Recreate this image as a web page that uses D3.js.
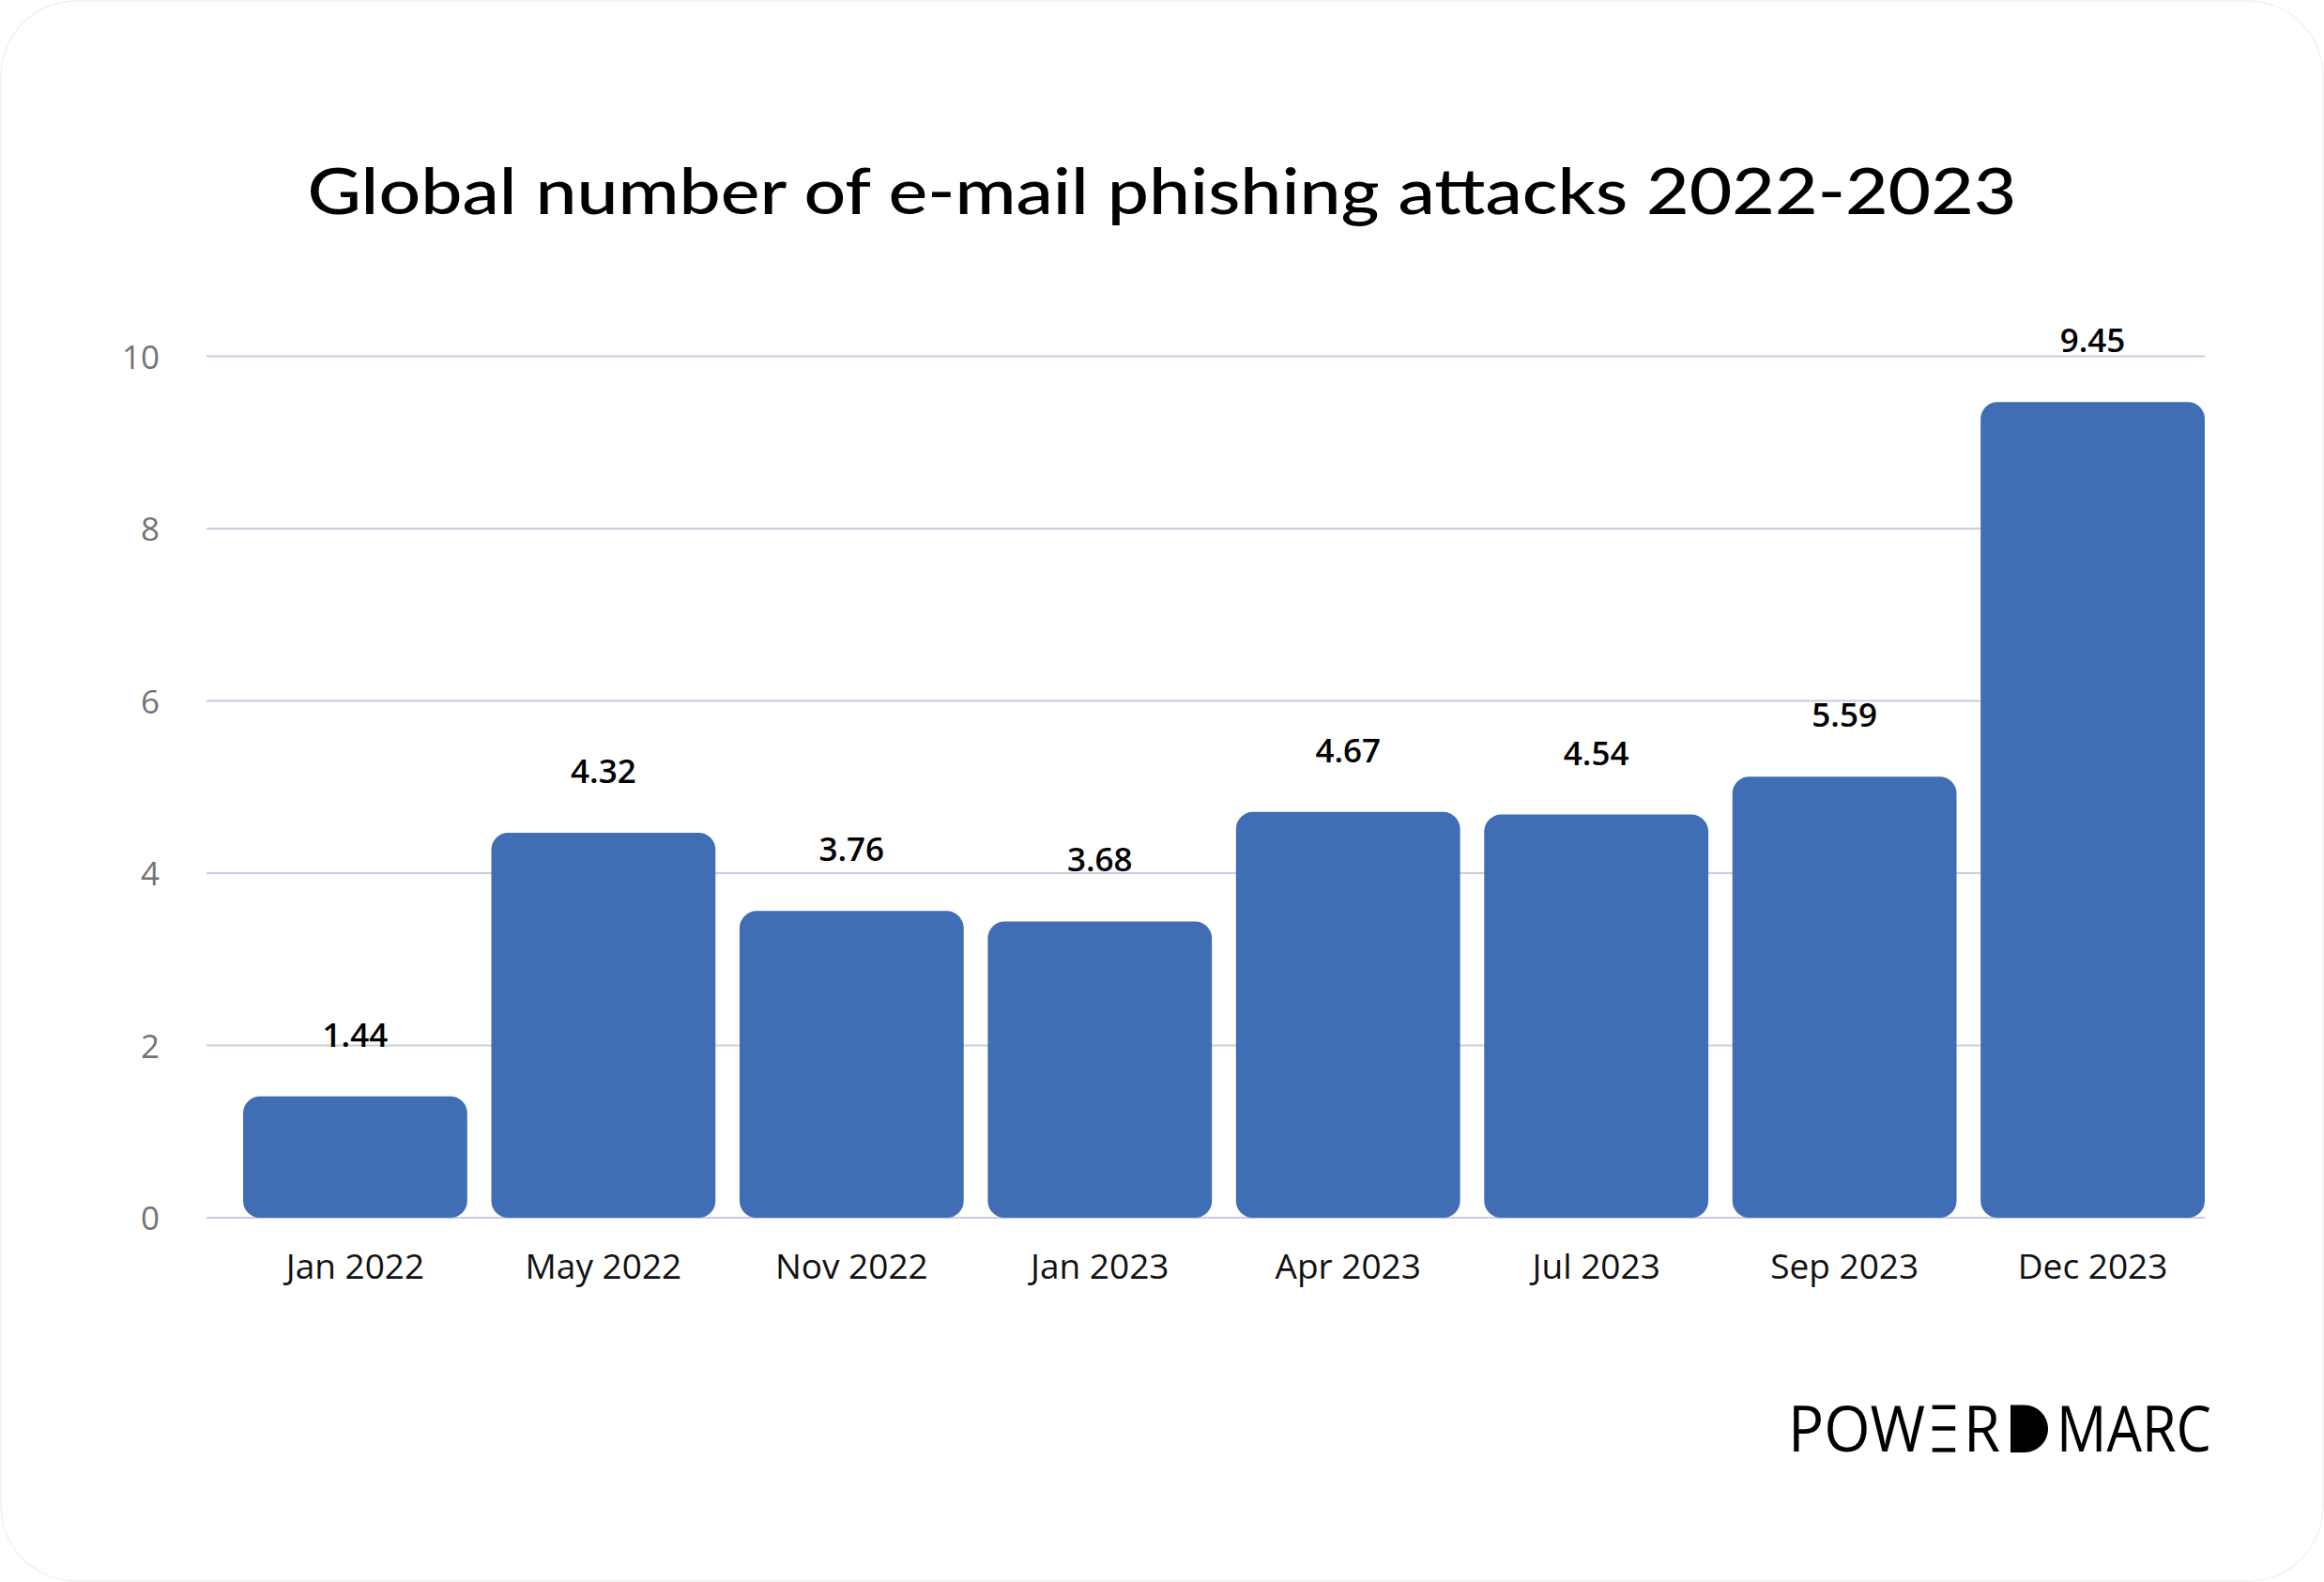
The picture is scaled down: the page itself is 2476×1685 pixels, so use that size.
<!DOCTYPE html>
<html>
<head>
<meta charset="utf-8">
<script src="https://cdn.jsdelivr.net/npm/d3@7"></script>
<style>
  html, body { margin: 0; padding: 0; background: #ffffff; }
  svg { display: block; }
</style>
</head>
<body>
<div id="chart"></div>
<script>
// ---- data ----
const categories = ["Jan 2022", "May 2022", "Nov 2022", "Jan 2023", "Apr 2023", "Jul 2023", "Sep 2023", "Dec 2023"];
// bar heights as drawn in the picture
const barValues = [1.41, 4.47, 3.56, 3.44, 4.71, 4.68, 5.12, 9.47];
// value labels as printed above the bars
const valueLabels = ["1.44", "4.32", "3.76", "3.68", "4.67", "4.54", "5.59", "9.45"];
const yTicks = [0, 2, 4, 6, 8, 10];
const titleText = "Global number of e-mail phishing attacks 2022-2023";

// ---- layout ----
const W = 2476, H = 1685;
const svg = d3.select("#chart").append("svg").attr("width", W).attr("height", H);

svg.append("rect").attr("x", 1).attr("y", 1).attr("width", W - 2).attr("height", H - 2)
  .attr("rx", 80).attr("fill", "#ffffff").attr("stroke", "#f0f0f0").attr("stroke-width", 1.5);

const x = d3.scaleBand().domain(categories).range([246.2, 2361.8]).paddingInner(0.097).paddingOuter(0.0485);
const y = d3.scaleLinear().domain([0, 10]).range([1297, 379.5]);

const gridX0 = 220, gridX1 = 2349;

// gridlines
svg.append("g").selectAll("line").data(yTicks).join("line")
  .attr("x1", gridX0).attr("x2", gridX1)
  .attr("y1", d => y(d)).attr("y2", d => y(d))
  .attr("stroke", "#c9cce0").attr("stroke-width", 2);

// y axis labels via d3 axis
const yAxis = d3.axisLeft(y).tickValues(yTicks).tickSize(0).tickPadding(0).tickFormat(d3.format("d"));
const gy = svg.append("g").attr("transform", "translate(170,0)").call(yAxis);
gy.select(".domain").remove();
gy.selectAll("text")
  .attr("font-family", "'Open Sans', sans-serif")
  .attr("font-size", 35)
  .attr("fill", "#737373")
  .attr("dy", "0.36em");

// bars
svg.append("g").selectAll("rect").data(barValues).join("rect")
  .attr("x", (d, i) => x(categories[i]))
  .attr("width", x.bandwidth())
  .attr("y", d => y(d))
  .attr("height", d => y(0) - y(d))
  .attr("rx", 18).attr("ry", 18)
  .attr("fill", "#3f6eb5");

// value labels
svg.append("g").selectAll("text").data(barValues).join("text")
  .attr("x", (d, i) => x(categories[i]) + x.bandwidth() / 2)
  .attr("y", d => y(d) - 53)
  .attr("text-anchor", "middle")
  .attr("font-family", "'Open Sans', sans-serif")
  .attr("font-weight", 600)
  .attr("font-size", 35)
  .attr("fill", "#000000")
  .text((d, i) => valueLabels[i]);

// x axis labels via d3 axis
const xAxis = d3.axisBottom(x).tickSize(0).tickPadding(0);
const gx = svg.append("g").attr("transform", "translate(0,1362)").call(xAxis);
gx.select(".domain").remove();
gx.selectAll("text")
  .attr("font-family", "'Open Sans', sans-serif")
  .attr("font-size", 37)
  .attr("fill", "#111111")
  .attr("dy", "0");

// title
svg.append("text")
  .attr("x", 1238).attr("y", 228)
  .attr("text-anchor", "middle")
  .attr("font-family", "Lato, 'Open Sans', sans-serif")
  .attr("font-weight", 500)
  .attr("font-size", 68)
  .attr("fill", "#000000")
  .attr("textLength", 1821)
  .attr("lengthAdjust", "spacingAndGlyphs")
  .text(titleText);

// logo "POWER DMARC"
const logo = svg.append("g");
const logoBase = 1546, logoFont = 68;
function logoText(str, x0, x1) {
  logo.append("text").attr("x", x0).attr("y", logoBase)
    .attr("font-family", "'Open Sans', sans-serif").attr("font-weight", 400)
    .attr("font-size", logoFont).attr("fill", "#000")
    .attr("textLength", x1 - x0).attr("lengthAdjust", "spacingAndGlyphs")
    .text(str);
}
logoText("POW", 1905, 2051);
// stylised E : three bars
[[1496.6, 1501], [1519.2, 1523.7], [1542.2, 1546.6]].forEach(([t, b]) => {
  logo.append("rect").attr("x", 2058.7).attr("y", t).attr("width", 24.5).attr("height", b - t).attr("fill", "#000");
});
logoText("R", 2092, 2131);
// filled D
logo.append("path")
  .attr("d", "M2142,1496.6 L2157,1496.6 A25,25.2 0 0 1 2157,1547 L2142,1547 Z")
  .attr("fill", "#000");
logoText("MARC", 2191, 2356);
</script>
</body>
</html>
